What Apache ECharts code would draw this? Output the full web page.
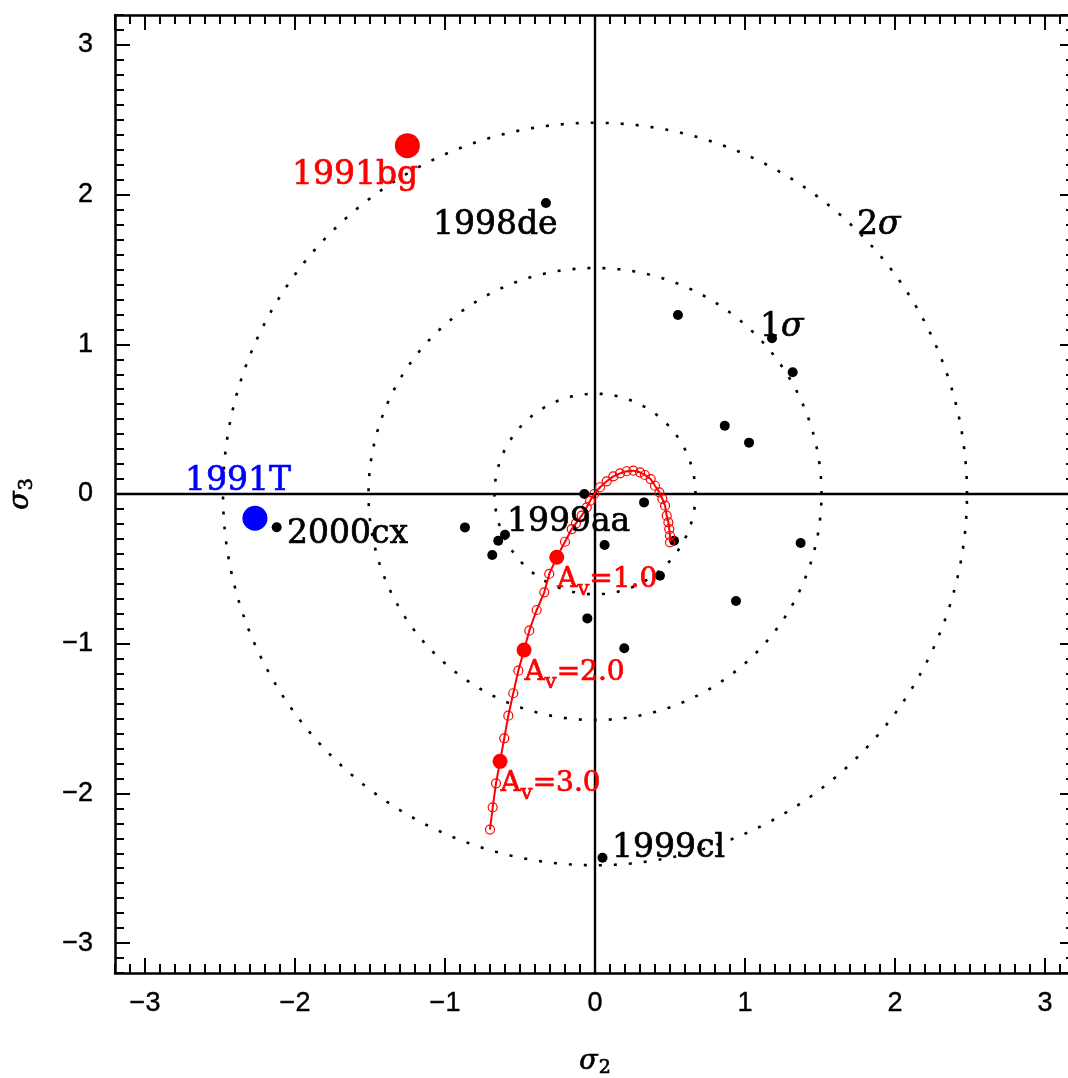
<!DOCTYPE html>
<html>
<head>
<meta charset="utf-8">
<script src="https://cdn.jsdelivr.net/npm/echarts@6/dist/echarts.min.js"></script>
<style>
  html, body { margin: 0; padding: 0; background: #fff; }
  #chart { width: 1068px; height: 1078px; }
</style>
</head>
<body>
<div id="chart"></div>
<script>
// Supernova sample in the (sigma2, sigma3) plane
const snX = [-0.327, 0.553, 1.18, 1.318, 0.865, 1.027, -0.071, 0.327, -0.867, -0.6, -0.645,
             -0.685, 0.064, 0.527, 1.371, 0.433, 0.94, -0.051, 0.195, 0.05, -2.122];
const snY = [1.944, 1.196, 1.04, 0.813, 0.456, 0.343, 0.0, -0.056, -0.223, -0.272, -0.312,
             -0.407, -0.341, -0.312, -0.327, -0.546, -0.715, -0.831, -1.031, -2.43, -0.222];

// Peculiar objects
const bgPoint = [-1.251, 2.327];   // 1991bg
const tPoint = [-2.267, -0.162];   // 1991T

// Reddening track (open circles joined by a line)
const trackX = [0.5, 0.5, 0.495, 0.489, 0.478, 0.467, 0.449, 0.429, 0.4, 0.371, 0.333, 0.3,
                0.255, 0.211, 0.167, 0.122, 0.078, 0.033, -0.005, -0.033, -0.055, -0.089,
                -0.127, -0.155, -0.2, -0.255, -0.305, -0.338, -0.389, -0.438, -0.473,
                -0.511, -0.545, -0.578, -0.605, -0.633, -0.66, -0.682, -0.7];
const trackY = [-0.323, -0.279, -0.234, -0.189, -0.145, -0.078, -0.033, 0.011, 0.055, 0.1,
                0.127, 0.145, 0.156, 0.152, 0.138, 0.118, 0.085, 0.045, 0.0, -0.045, -0.089,
                -0.145, -0.196, -0.234, -0.319, -0.423, -0.534, -0.657, -0.775, -0.913,
                -1.042, -1.18, -1.331, -1.481, -1.632, -1.786, -1.933, -2.093, -2.242];

// Extinction steps marked on the track
const avValues = [1.0, 2.0, 3.0];
const avX = [-0.255, -0.473, -0.633];
const avY = [-0.423, -1.042, -1.786];

// Confidence contours (radius)
const contourRadii = [0.67, 1.51, 2.48];

// Axis range and tick labels
const axisMin = -3.2, axisMax = 3.2;
const tickLabels = ['−3', '−2', '−1', '0', '1', '2', '3'];

// Text annotations: [x, y, text, colour]
const annotations = [
  [-2.02, 2.158, '1991bg', '#ff0000'],
  [-1.08, 1.82, '1998de', '#000000'],
  [-2.733, 0.114, '1991T', '#0000ff'],
  [-2.053, -0.24, '2000cx', '#000000'],
  [-0.587, -0.16, '1999aa', '#000000'],
  [0.113, -2.341, '1999cl', '#000000'],
  [1.1, 1.142, '{n|1}{g|σ}', '#000000'],
  [1.747, 1.824, '{n|2}{g|σ}', '#000000']
];

const SERIF = '"DejaVu Serif", "Liberation Serif", serif';
const SANS = '"Liberation Sans", Arial, sans-serif';

function circle(r) {
  const pts = [];
  for (let i = 0; i <= 720; i++) {
    const t = i * Math.PI / 360;
    pts.push([r * Math.cos(t), r * Math.sin(t)]);
  }
  return pts;
}

function tickFormatter(v) {
  const r = Math.round(v);
  if (Math.abs(v - r) > 1e-6) return '';
  const label = tickLabels[r + 3];
  return label !== undefined ? label : '';
}

// slightly heavier strokes for serif labels
function serifStyle(color, size, extra) {
  return Object.assign({
    fontFamily: SERIF, fontSize: size, color,
    textBorderColor: color, textBorderWidth: 0.7
  }, extra || {});
}

function majorAxis(position, labels, extra) {
  return Object.assign({
    type: 'value', position, min: axisMin, max: axisMax,
    splitNumber: 6, minInterval: 1, maxInterval: 1,
    axisLine: { show: true, onZero: false, lineStyle: { color: '#000', width: 2.5 } },
    axisTick: { show: true, inside: true, length: 15, lineStyle: { color: '#000', width: 2 } },
    axisLabel: {
      show: labels, showMinLabel: false, showMaxLabel: false, margin: 17,
      formatter: tickFormatter, color: '#000', fontSize: 27, fontFamily: SANS,
      textBorderColor: '#000', textBorderWidth: 0.4
    },
    splitLine: { show: false }
  }, extra || {});
}

function minorAxis(position) {
  return {
    type: 'value', position, min: axisMin, max: axisMax, interval: 0.1,
    axisLine: { show: false, onZero: false },
    axisTick: { show: true, inside: true, length: 9, lineStyle: { color: '#000', width: 2 } },
    axisLabel: { show: false },
    splitLine: { show: false }
  };
}

const nameRich = {
  g: serifStyle('#000', 27, { fontStyle: 'italic' }),
  s: serifStyle('#000', 19, { padding: [14, 0, 0, 1] })
};

const snData = snX.map((x, i) => [x, snY[i]]);
const trackData = trackX.map((x, i) => [x, trackY[i]]);
const avData = avX.map((x, i) => ({ value: [x, avY[i]], av: avValues[i] }));

const contourSeries = contourRadii.map(r => ({
  type: 'line', data: circle(r), showSymbol: false, symbol: 'none', silent: true, z: 1,
  lineStyle: { color: '#000', width: 2.6, type: [3, 12], cap: 'butt' }
}));

const option = {
  animation: false,
  backgroundColor: '#fff',
  grid: { left: 115, top: 15, width: 960, height: 958, outerBoundsMode: 'none', containLabel: false },
  xAxis: [
    majorAxis('bottom', true, {
      name: '{g|σ}{s|2}', nameLocation: 'middle', nameGap: 72,
      nameTextStyle: { rich: nameRich }
    }),
    majorAxis('top', false),
    minorAxis('bottom'),
    minorAxis('top')
  ],
  yAxis: [
    majorAxis('left', true, {
      name: '{g|σ}{s|3}', nameLocation: 'middle', nameGap: 78, nameRotate: 90,
      nameTextStyle: { rich: nameRich },
      axisLabel: {
        show: true, showMinLabel: false, showMaxLabel: false, margin: 22,
        formatter: tickFormatter, color: '#000', fontSize: 27, fontFamily: SANS,
        textBorderColor: '#000', textBorderWidth: 0.4
      }
    }),
    majorAxis('right', false),
    minorAxis('left'),
    minorAxis('right')
  ],
  series: [
    // zero lines
    { type: 'line', data: [[axisMin, 0], [axisMax, 0]], symbol: 'none', silent: true, z: 1,
      lineStyle: { color: '#000', width: 2.4 } },
    { type: 'line', data: [[0, axisMin], [0, axisMax]], symbol: 'none', silent: true, z: 1,
      lineStyle: { color: '#000', width: 2.4 } },
    ...contourSeries,
    // sample
    { type: 'scatter', data: snData, symbol: 'circle', symbolSize: 10, z: 3,
      itemStyle: { color: '#000', opacity: 1 } },
    // reddening track
    { type: 'line', data: trackData, symbol: 'circle', symbolSize: 9, showAllSymbol: true, z: 4,
      lineStyle: { color: '#ff0000', width: 2 },
      itemStyle: { color: 'rgba(255,255,255,0)', borderColor: '#ff0000', borderWidth: 1.2, opacity: 1 } },
    { type: 'scatter', data: avData, symbol: 'circle', symbolSize: 15, z: 5,
      itemStyle: { color: '#ff0000', opacity: 1 },
      label: {
        show: true, position: [8, 30], align: 'left', verticalAlign: 'middle',
        formatter: p => '{a|A}{s|v}{a|=' + p.data.av.toFixed(1) + '}',
        rich: {
          a: serifStyle('#ff0000', 28),
          s: serifStyle('#ff0000', 21, { padding: [20, 0, 0, 0] })
        }
      } },
    // peculiar objects
    { type: 'scatter', data: [bgPoint], symbol: 'circle', symbolSize: 25, z: 5,
      itemStyle: { color: '#ff0000', opacity: 1 } },
    { type: 'scatter', data: [tPoint], symbol: 'circle', symbolSize: 25, z: 5,
      itemStyle: { color: '#0000ff', opacity: 1 } },
    // text annotations
    { type: 'scatter', symbolSize: 0, silent: true, z: 6,
      itemStyle: { opacity: 1 },
      data: annotations.map(a => ({
        value: [a[0], a[1]],
        label: Object.assign(serifStyle(a[3], 33), {
          show: true, position: 'right', distance: 0, offset: [0, 4], formatter: a[2],
          rich: {
            n: serifStyle(a[3], 33),
            g: serifStyle(a[3], 33, { fontStyle: 'italic' })
          }
        })
      })) }
  ]
};

const chart = echarts.init(document.getElementById('chart'), null, { renderer: 'canvas' });
chart.setOption(option);
</script>
</body>
</html>
